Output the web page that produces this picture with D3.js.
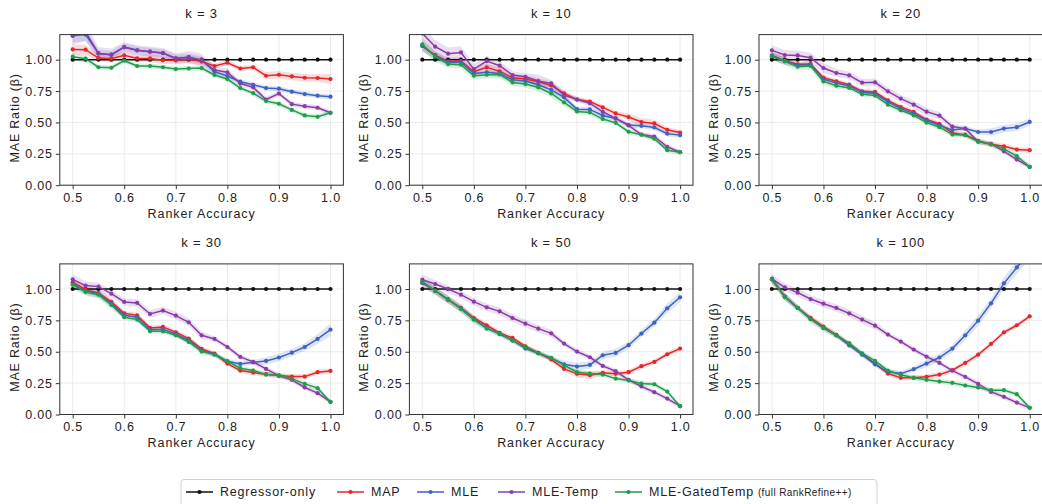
<!DOCTYPE html>
<html>
<head>
<meta charset="utf-8">
<script src="https://cdn.jsdelivr.net/npm/d3@7"></script>
<style>
body { margin: 0; background: #fff; }
svg { display: block; font-family: "Liberation Sans", Arial, sans-serif; }
.tick text { font-size: 12.5px; letter-spacing: 0.8px; fill: #222; }
.tick line { stroke: #333; }
</style>
</head>
<body>
<svg id="chart" width="1042" height="504"></svg>
<script>
// ranker accuracy on the x axis
var accuracy = [0.5, 0.525, 0.55, 0.575, 0.6, 0.625, 0.65, 0.675, 0.7, 0.725, 0.75,
    0.775, 0.8, 0.825, 0.85, 0.875, 0.9, 0.925, 0.95, 0.975, 1.0];
var kLabels = ["k = 3", "k = 10", "k = 20", "k = 30", "k = 50", "k = 100"];
var seriesNames = ["Regressor-only", "MAP", "MLE", "MLE-Temp", "MLE-GatedTemp"];
var seriesColors = ["#111111", "#e5262b", "#3f63c1", "#8a3da8", "#1f9e4a"];
var xTicks = [0.5, 0.6, 0.7, 0.8, 0.9, 1.0];
var yTicks = [0, 0.25, 0.5, 0.75, 1.0];

var regressor = [1, 1, 1, 1, 1, 1, 1, 1, 1, 1, 1, 1, 1, 1, 1, 1, 1, 1, 1, 1, 1];

// k = 3
var map_k3 = [1.082, 1.08, 1.013, 1.008, 1.035, 1.01, 1.01, 0.995, 0.995, 1.005, 0.985, 0.95, 0.976, 0.93, 0.94, 0.872, 0.88, 0.867, 0.856, 0.854, 0.846];
var mle_k3 = [1.19, 1.2, 1.05, 1.04, 1.10, 1.075, 1.064, 1.053, 1.01, 1.02, 0.997, 0.905, 0.87, 0.825, 0.80, 0.774, 0.769, 0.745, 0.726, 0.713, 0.705];
var temp_k3 = [1.19, 1.22, 1.05, 1.04, 1.10, 1.075, 1.064, 1.053, 1.01, 1.02, 0.997, 0.918, 0.90, 0.81, 0.78, 0.683, 0.73, 0.646, 0.63, 0.617, 0.577];
var gated_k3 = [1.024, 1.008, 0.94, 0.936, 0.992, 0.95, 0.95, 0.94, 0.925, 0.93, 0.933, 0.878, 0.846, 0.774, 0.734, 0.67, 0.649, 0.60, 0.556, 0.545, 0.577];
// k = 10
var map_k10 = [1.109, 1.037, 0.987, 0.99, 0.904, 0.939, 0.907, 0.856, 0.846, 0.824, 0.795, 0.731, 0.683, 0.667, 0.62, 0.572, 0.543, 0.503, 0.492, 0.441, 0.42];
var mle_k10 = [1.11, 1.03, 0.98, 0.98, 0.89, 0.90, 0.89, 0.84, 0.83, 0.80, 0.76, 0.70, 0.606, 0.604, 0.556, 0.532, 0.479, 0.473, 0.46, 0.41, 0.399];
var temp_k10 = [1.21, 1.104, 1.048, 1.058, 0.925, 0.989, 0.952, 0.878, 0.864, 0.83, 0.811, 0.718, 0.683, 0.652, 0.585, 0.532, 0.476, 0.404, 0.388, 0.306, 0.263];
var gated_k10 = [1.122, 1.024, 0.965, 0.96, 0.872, 0.88, 0.883, 0.819, 0.806, 0.779, 0.731, 0.66, 0.588, 0.58, 0.527, 0.497, 0.426, 0.402, 0.37, 0.279, 0.263];
// k = 20
var map_k20 = [1.034, 0.992, 0.963, 0.966, 0.857, 0.828, 0.801, 0.748, 0.743, 0.676, 0.623, 0.584, 0.523, 0.488, 0.416, 0.403, 0.353, 0.326, 0.31, 0.284, 0.279];
var mle_k20 = [1.03, 0.99, 0.955, 0.96, 0.845, 0.815, 0.79, 0.74, 0.73, 0.665, 0.61, 0.57, 0.517, 0.477, 0.44, 0.451, 0.424, 0.424, 0.451, 0.462, 0.504];
var temp_k20 = [1.074, 1.037, 1.034, 1.016, 0.934, 0.894, 0.875, 0.817, 0.82, 0.748, 0.69, 0.642, 0.586, 0.554, 0.467, 0.451, 0.347, 0.329, 0.27, 0.204, 0.146];
var gated_k20 = [1.027, 0.987, 0.944, 0.95, 0.828, 0.793, 0.775, 0.724, 0.714, 0.642, 0.597, 0.557, 0.499, 0.462, 0.403, 0.398, 0.347, 0.326, 0.289, 0.231, 0.146];
// k = 30
var map_k30 = [1.053, 0.995, 0.968, 0.897, 0.806, 0.79, 0.69, 0.698, 0.655, 0.605, 0.523, 0.485, 0.406, 0.35, 0.334, 0.321, 0.31, 0.302, 0.302, 0.337, 0.347];
var mle_k30 = [1.04, 0.985, 0.96, 0.885, 0.79, 0.775, 0.675, 0.68, 0.64, 0.59, 0.51, 0.48, 0.424, 0.403, 0.416, 0.427, 0.454, 0.493, 0.538, 0.602, 0.676];
var temp_k30 = [1.077, 1.027, 1.019, 0.963, 0.897, 0.889, 0.801, 0.828, 0.788, 0.735, 0.631, 0.602, 0.538, 0.459, 0.419, 0.363, 0.308, 0.276, 0.215, 0.17, 0.10];
var gated_k30 = [1.034, 0.976, 0.955, 0.873, 0.775, 0.756, 0.663, 0.663, 0.631, 0.578, 0.501, 0.477, 0.424, 0.369, 0.35, 0.318, 0.31, 0.286, 0.244, 0.21, 0.10];
// k = 50
var map_k50 = [1.048, 0.987, 0.915, 0.849, 0.769, 0.711, 0.65, 0.61, 0.544, 0.491, 0.438, 0.363, 0.324, 0.313, 0.332, 0.324, 0.337, 0.385, 0.419, 0.48, 0.525];
var mle_k50 = [1.05, 0.985, 0.915, 0.845, 0.76, 0.69, 0.64, 0.59, 0.525, 0.488, 0.448, 0.40, 0.382, 0.395, 0.472, 0.491, 0.552, 0.645, 0.732, 0.846, 0.934];
var temp_k50 = [1.074, 1.04, 1.0, 0.955, 0.899, 0.854, 0.822, 0.769, 0.724, 0.684, 0.647, 0.565, 0.501, 0.456, 0.387, 0.345, 0.276, 0.223, 0.178, 0.127, 0.066];
var gated_k50 = [1.056, 0.987, 0.918, 0.841, 0.756, 0.684, 0.645, 0.589, 0.536, 0.488, 0.451, 0.393, 0.337, 0.326, 0.318, 0.286, 0.271, 0.247, 0.241, 0.183, 0.066];
// k = 100
var map_k100 = [1.075, 0.94, 0.85, 0.77, 0.70, 0.635, 0.56, 0.48, 0.405, 0.326, 0.292, 0.292, 0.30, 0.318, 0.353, 0.411, 0.477, 0.562, 0.655, 0.711, 0.782];
var mle_k100 = [1.08, 0.94, 0.85, 0.76, 0.69, 0.63, 0.55, 0.477, 0.40, 0.34, 0.326, 0.361, 0.406, 0.454, 0.525, 0.631, 0.748, 0.886, 1.045, 1.172, 1.29];
var temp_k100 = [1.08, 1.013, 0.971, 0.92, 0.883, 0.849, 0.806, 0.756, 0.708, 0.637, 0.581, 0.517, 0.461, 0.411, 0.35, 0.30, 0.244, 0.18, 0.141, 0.095, 0.053];
var gated_k100 = [1.08, 0.936, 0.849, 0.761, 0.69, 0.631, 0.568, 0.488, 0.427, 0.35, 0.316, 0.292, 0.276, 0.263, 0.252, 0.231, 0.215, 0.194, 0.194, 0.162, 0.053];

// half widths of the shaded bands
var noSpread = [0, 0, 0, 0, 0, 0, 0, 0, 0, 0, 0, 0, 0, 0, 0, 0, 0, 0, 0, 0, 0];
var sdMap_k3 = [.04, .04, .03, .03, .03, .03, .03, .03, .03, .03, .03, .02, .02, .02, .02, .03, .03, .03, .03, .03, .04];
var sdMle_k3 = [.05, .05, .03, .03, .03, .03, .03, .03, .03, .03, .03, .02, .02, .02, .02, .02, .02, .02, .02, .02, .02];
var sdTemp_k3 = [.07, .07, .05, .05, .04, .04, .04, .04, .04, .05, .05, .03, .03, .02, .02, .02, .02, .02, .02, .02, .02];
var sdGated_k3 = [.03, .03, .02, .02, .02, .02, .02, .02, .02, .02, .02, .02, .02, .02, .02, .02, .02, .02, .02, .02, .02];
var sdMap_k10 = [.04, .03, .03, .03, .03, .03, .03, .03, .03, .03, .03, .02, .02, .02, .02, .02, .03, .03, .03, .02, .02];
var sdMle_k10 = [.04, .03, .03, .03, .03, .03, .03, .03, .03, .03, .03, .02, .02, .02, .02, .02, .02, .02, .02, .02, .02];
var sdTemp_k10 = [.06, .05, .05, .05, .04, .04, .04, .03, .03, .05, .03, .03, .02, .02, .02, .02, .02, .02, .02, .02, .02];
var sdGated_k10 = [.05, .04, .03, .03, .03, .03, .03, .03, .03, .03, .03, .03, .02, .02, .02, .02, .02, .02, .02, .02, .02];
var sdMap_k20 = [.03, .03, .02, .02, .02, .02, .02, .02, .02, .02, .02, .02, .02, .02, .02, .02, .02, .02, .02, .02, .02];
var sdMle_k20 = [.03, .03, .02, .02, .02, .02, .02, .02, .02, .02, .02, .02, .02, .02, .02, .02, .02, .03, .03, .03, .03];
var sdTemp_k20 = [.04, .04, .04, .04, .04, .03, .03, .03, .03, .03, .03, .03, .03, .03, .02, .02, .02, .02, .02, .02, .02];
var sdGated_k20 = [.03, .03, .03, .03, .03, .02, .02, .02, .02, .02, .02, .02, .02, .02, .02, .02, .02, .02, .02, .02, .02];
var sdMap_k30 = [.03, .03, .03, .03, .02, .02, .02, .02, .02, .02, .02, .02, .02, .02, .02, .02, .02, .02, .02, .02, .02];
var sdMle_k30 = [.03, .03, .03, .03, .02, .02, .02, .02, .02, .02, .02, .02, .02, .02, .02, .03, .03, .03, .03, .04, .05];
var sdTemp_k30 = [.04, .03, .03, .03, .03, .03, .03, .03, .03, .03, .03, .02, .02, .02, .02, .02, .02, .02, .02, .02, .02];
var sdGated_k30 = [.03, .03, .03, .03, .02, .02, .02, .02, .02, .02, .02, .02, .02, .02, .02, .02, .02, .02, .02, .02, .02];
var sdMap_k50 = [.03, .03, .03, .03, .02, .02, .02, .02, .02, .02, .02, .02, .03, .03, .02, .02, .02, .02, .02, .02, .02];
var sdMle_k50 = [.03, .03, .03, .03, .03, .02, .02, .02, .02, .02, .02, .03, .03, .03, .03, .03, .03, .03, .03, .04, .04];
var sdTemp_k50 = [.04, .03, .03, .03, .03, .03, .03, .03, .03, .03, .03, .02, .02, .02, .02, .02, .02, .02, .02, .02, .02];
var sdGated_k50 = [.03, .03, .03, .03, .03, .02, .02, .02, .02, .02, .02, .02, .02, .02, .02, .02, .02, .02, .02, .02, .02];
var sdMap_k100 = [.03, .03, .02, .02, .02, .02, .02, .02, .02, .02, .02, .02, .02, .02, .02, .02, .02, .02, .02, .02, .02];
var sdMle_k100 = [.03, .03, .02, .02, .02, .02, .02, .02, .02, .02, .02, .02, .03, .03, .03, .04, .04, .04, .05, .05, .05];
var sdTemp_k100 = [.04, .03, .03, .03, .03, .03, .03, .03, .03, .02, .02, .02, .02, .02, .02, .02, .02, .02, .02, .02, .02];
var sdGated_k100 = [.04, .03, .03, .03, .03, .02, .02, .02, .02, .02, .02, .02, .02, .02, .02, .02, .02, .02, .02, .02, .02];

var panels = [
    { values: [regressor, map_k3, mle_k3, temp_k3, gated_k3], spread: [noSpread, sdMap_k3, sdMle_k3, sdTemp_k3, sdGated_k3] },
    { values: [regressor, map_k10, mle_k10, temp_k10, gated_k10], spread: [noSpread, sdMap_k10, sdMle_k10, sdTemp_k10, sdGated_k10] },
    { values: [regressor, map_k20, mle_k20, temp_k20, gated_k20], spread: [noSpread, sdMap_k20, sdMle_k20, sdTemp_k20, sdGated_k20] },
    { values: [regressor, map_k30, mle_k30, temp_k30, gated_k30], spread: [noSpread, sdMap_k30, sdMle_k30, sdTemp_k30, sdGated_k30] },
    { values: [regressor, map_k50, mle_k50, temp_k50, gated_k50], spread: [noSpread, sdMap_k50, sdMle_k50, sdTemp_k50, sdGated_k50] },
    { values: [regressor, map_k100, mle_k100, temp_k100, gated_k100], spread: [noSpread, sdMap_k100, sdMle_k100, sdTemp_k100, sdGated_k100] }
];

var svg = d3.select("#chart");
var plotW = 283.6, plotH = 150.6;
var lefts = [59.8, 409.4, 759.0];
var tops = [34.6, 263.9];

var x = d3.scaleLinear().domain([0.475, 1.025]).range([0, plotW]);
var y = d3.scaleLinear().domain([0, 1.2]).range([plotH, 0]);

panels.forEach(function (p, pi) {
    var g = svg.append("g")
        .attr("transform", "translate(" + lefts[pi % 3] + "," + tops[Math.floor(pi / 3)] + ")");

    // grid
    g.append("g").selectAll("line").data(xTicks).enter().append("line")
        .attr("x1", d => x(d)).attr("x2", d => x(d))
        .attr("y1", 0).attr("y2", plotH)
        .attr("stroke", "#e6e6e6").attr("stroke-width", 0.8);
    g.append("g").selectAll("line").data(yTicks).enter().append("line")
        .attr("x1", 0).attr("x2", plotW)
        .attr("y1", d => y(d)).attr("y2", d => y(d))
        .attr("stroke", "#e6e6e6").attr("stroke-width", 0.8);

    g.append("clipPath").attr("id", "clip" + pi)
        .append("rect").attr("width", plotW).attr("height", plotH);
    var plot = g.append("g").attr("clip-path", "url(#clip" + pi + ")");

    var area = d3.area()
        .x((d, i) => x(accuracy[i]))
        .y0(d => y(d[0] - d[1]))
        .y1(d => y(d[0] + d[1]));
    var line = d3.line()
        .x((d, i) => x(accuracy[i]))
        .y(d => y(d));

    // bands first, then the lines on top
    p.values.forEach(function (vals, si) {
        var rows = vals.map((v, i) => [v, p.spread[si][i]]);
        if (si > 0) {
            plot.append("path")
                .attr("d", area(rows))
                .attr("fill", seriesColors[si])
                .attr("fill-opacity", 0.17);
        }
    });
    p.values.forEach(function (vals, si) {
        plot.append("path")
            .attr("d", line(vals))
            .attr("fill", "none")
            .attr("stroke", seriesColors[si])
            .attr("stroke-width", 1.5);
        plot.append("g").selectAll("circle").data(vals).enter().append("circle")
            .attr("cx", (d, i) => x(accuracy[i]))
            .attr("cy", d => y(d))
            .attr("r", 2.1)
            .attr("fill", seriesColors[si]);
    });

    // frame
    g.append("rect")
        .attr("width", plotW).attr("height", plotH)
        .attr("fill", "none").attr("stroke", "#333").attr("stroke-width", 1);

    var xAxis = g.append("g")
        .attr("transform", "translate(0," + plotH + ")")
        .call(d3.axisBottom(x).tickValues(xTicks).tickFormat(d3.format(".1f")).tickSize(4).tickPadding(4));
    xAxis.select(".domain").remove();
    var yAxis = g.append("g")
        .call(d3.axisLeft(y).tickValues(yTicks).tickFormat(d3.format(".2f")).tickSize(4).tickPadding(3));
    yAxis.select(".domain").remove();

    g.append("text")
        .attr("x", plotW / 2).attr("y", -17)
        .attr("text-anchor", "middle")
        .style("font-size", "13px").style("letter-spacing", "0.8px")
        .attr("fill", "#222")
        .text(kLabels[pi]);

    g.append("text")
        .attr("x", plotW / 2).attr("y", plotH + 32.5)
        .attr("text-anchor", "middle")
        .style("font-size", "12.5px").style("letter-spacing", "0.9px")
        .attr("fill", "#222")
        .text("Ranker Accuracy");

    g.append("text")
        .attr("transform", "translate(-45," + (plotH / 2 + 8) + ") rotate(-90)")
        .attr("text-anchor", "middle")
        .attr("dominant-baseline", "central")
        .style("font-size", "12.5px").style("letter-spacing", "0.8px")
        .attr("fill", "#222")
        .text("MAE Ratio (β)");
});

// legend
var legend = svg.append("g");
legend.append("rect")
    .attr("x", 181).attr("y", 479.5).attr("width", 696).attr("height", 32)
    .attr("rx", 3)
    .attr("fill", "#fff").attr("stroke", "#cfcfcf");
var legendX = [186, 337, 417, 498, 615];
seriesNames.forEach(function (name, si) {
    var lx = legendX[si];
    legend.append("line")
        .attr("x1", lx).attr("x2", lx + 27)
        .attr("y1", 492).attr("y2", 492)
        .attr("stroke", seriesColors[si]).attr("stroke-width", 1.5);
    legend.append("circle")
        .attr("cx", lx + 13.5).attr("cy", 492).attr("r", 2.1)
        .attr("fill", seriesColors[si]);
    var t = legend.append("text")
        .attr("x", lx + 34).attr("y", 492)
        .attr("dominant-baseline", "central")
        .style("font-size", "12.5px").style("letter-spacing", "0.8px")
        .attr("fill", "#222")
        .text(name);
    if (si == 4) {
        t.append("tspan")
            .attr("dx", 4)
            .style("font-size", "10px").style("letter-spacing", "0.4px")
            .text("(full RankRefine++)");
    }
});
</script>
</body>
</html>
